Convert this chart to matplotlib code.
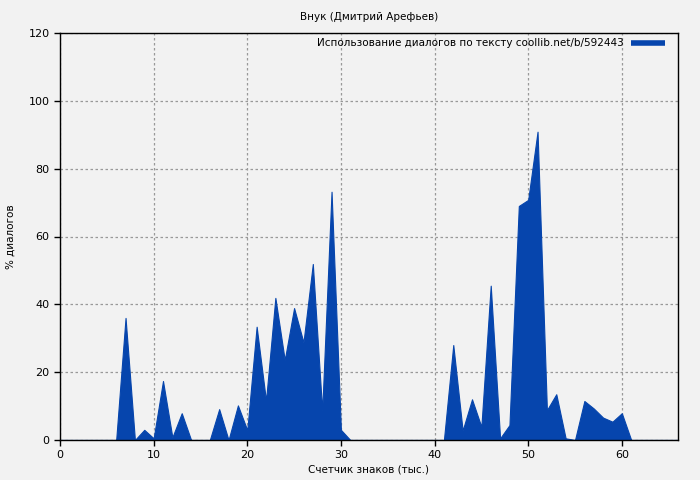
import matplotlib
matplotlib.use("Agg")
import matplotlib.pyplot as plt
import numpy as np

title = "Внук (Дмитрий Арефьев)"
legend_label = "Использование диалогов по тексту coollib.net/b/592443"
xlabel = "Счетчик знаков (тыс.)"
ylabel = "% диалогов"

x_vals = list(range(0, 67))
y_vals = [0, 0, 0, 0, 0, 0, 0, 36, 0, 3,
          0.5, 17.4, 0.8, 7.9, 0, 0, 0, 9.1, 0, 10.2,
          2.9, 33.4, 11.6, 41.9, 23.6, 38.9, 28.8, 51.9, 8.6, 73.2,
          3, 0, 0, 0, 0, 0, 0, 0, 0, 0,
          0, 0, 28.0, 2.8, 12.0, 3.9, 45.5, 0.5, 4.4, 69.0,
          70.8, 90.9, 8.8, 13.5, 0.5, 0, 11.5, 9.3, 6.6, 5.4,
          7.9, 0, 0, 0, 0, 0, 0]

x_ticks = [0, 10, 20, 30, 40, 50, 60]
y_ticks = [0, 20, 40, 60, 80, 100, 120]

color = "#0645ad"
bg = "#f2f2f2"

fig = plt.figure(figsize=(7, 4.8), dpi=100, facecolor=bg)
ax = fig.add_axes([60/700, 40/480, 618/700, 407/480], facecolor=bg)

ax.fill_between(x_vals, 0, y_vals, color=color, linewidth=0.8, edgecolor=color)
ax.plot([], [], color=color, linewidth=4, solid_capstyle="butt", label=legend_label)

ax.set_xlim(0, 66)
ax.set_ylim(0, 120)
ax.set_xticks(x_ticks)
ax.set_yticks(y_ticks)
ax.grid(True, color="#999999", linestyle=(0, (2, 2)), linewidth=0.9)
ax.set_axisbelow(True)
for s in ax.spines.values():
    s.set_linewidth(1.0)
    s.set_color("black")
ax.tick_params(direction="out", length=4, width=1, labelsize=8, colors="black")
ax.set_xlabel(xlabel, fontsize=7.5, labelpad=3)
ax.set_ylabel(ylabel, fontsize=7.5, labelpad=9.5)
fig.text(0.527, 1 - 17/480, title, ha="center", va="center", fontsize=7.5)

leg = ax.legend(loc="upper right", frameon=False, fontsize=7.5, markerfirst=False,
                handlelength=3.2, borderaxespad=0.4, handletextpad=0.7,
                bbox_to_anchor=(0.992, 1.007))

fig.savefig("out.png", dpi=100, facecolor=bg)
